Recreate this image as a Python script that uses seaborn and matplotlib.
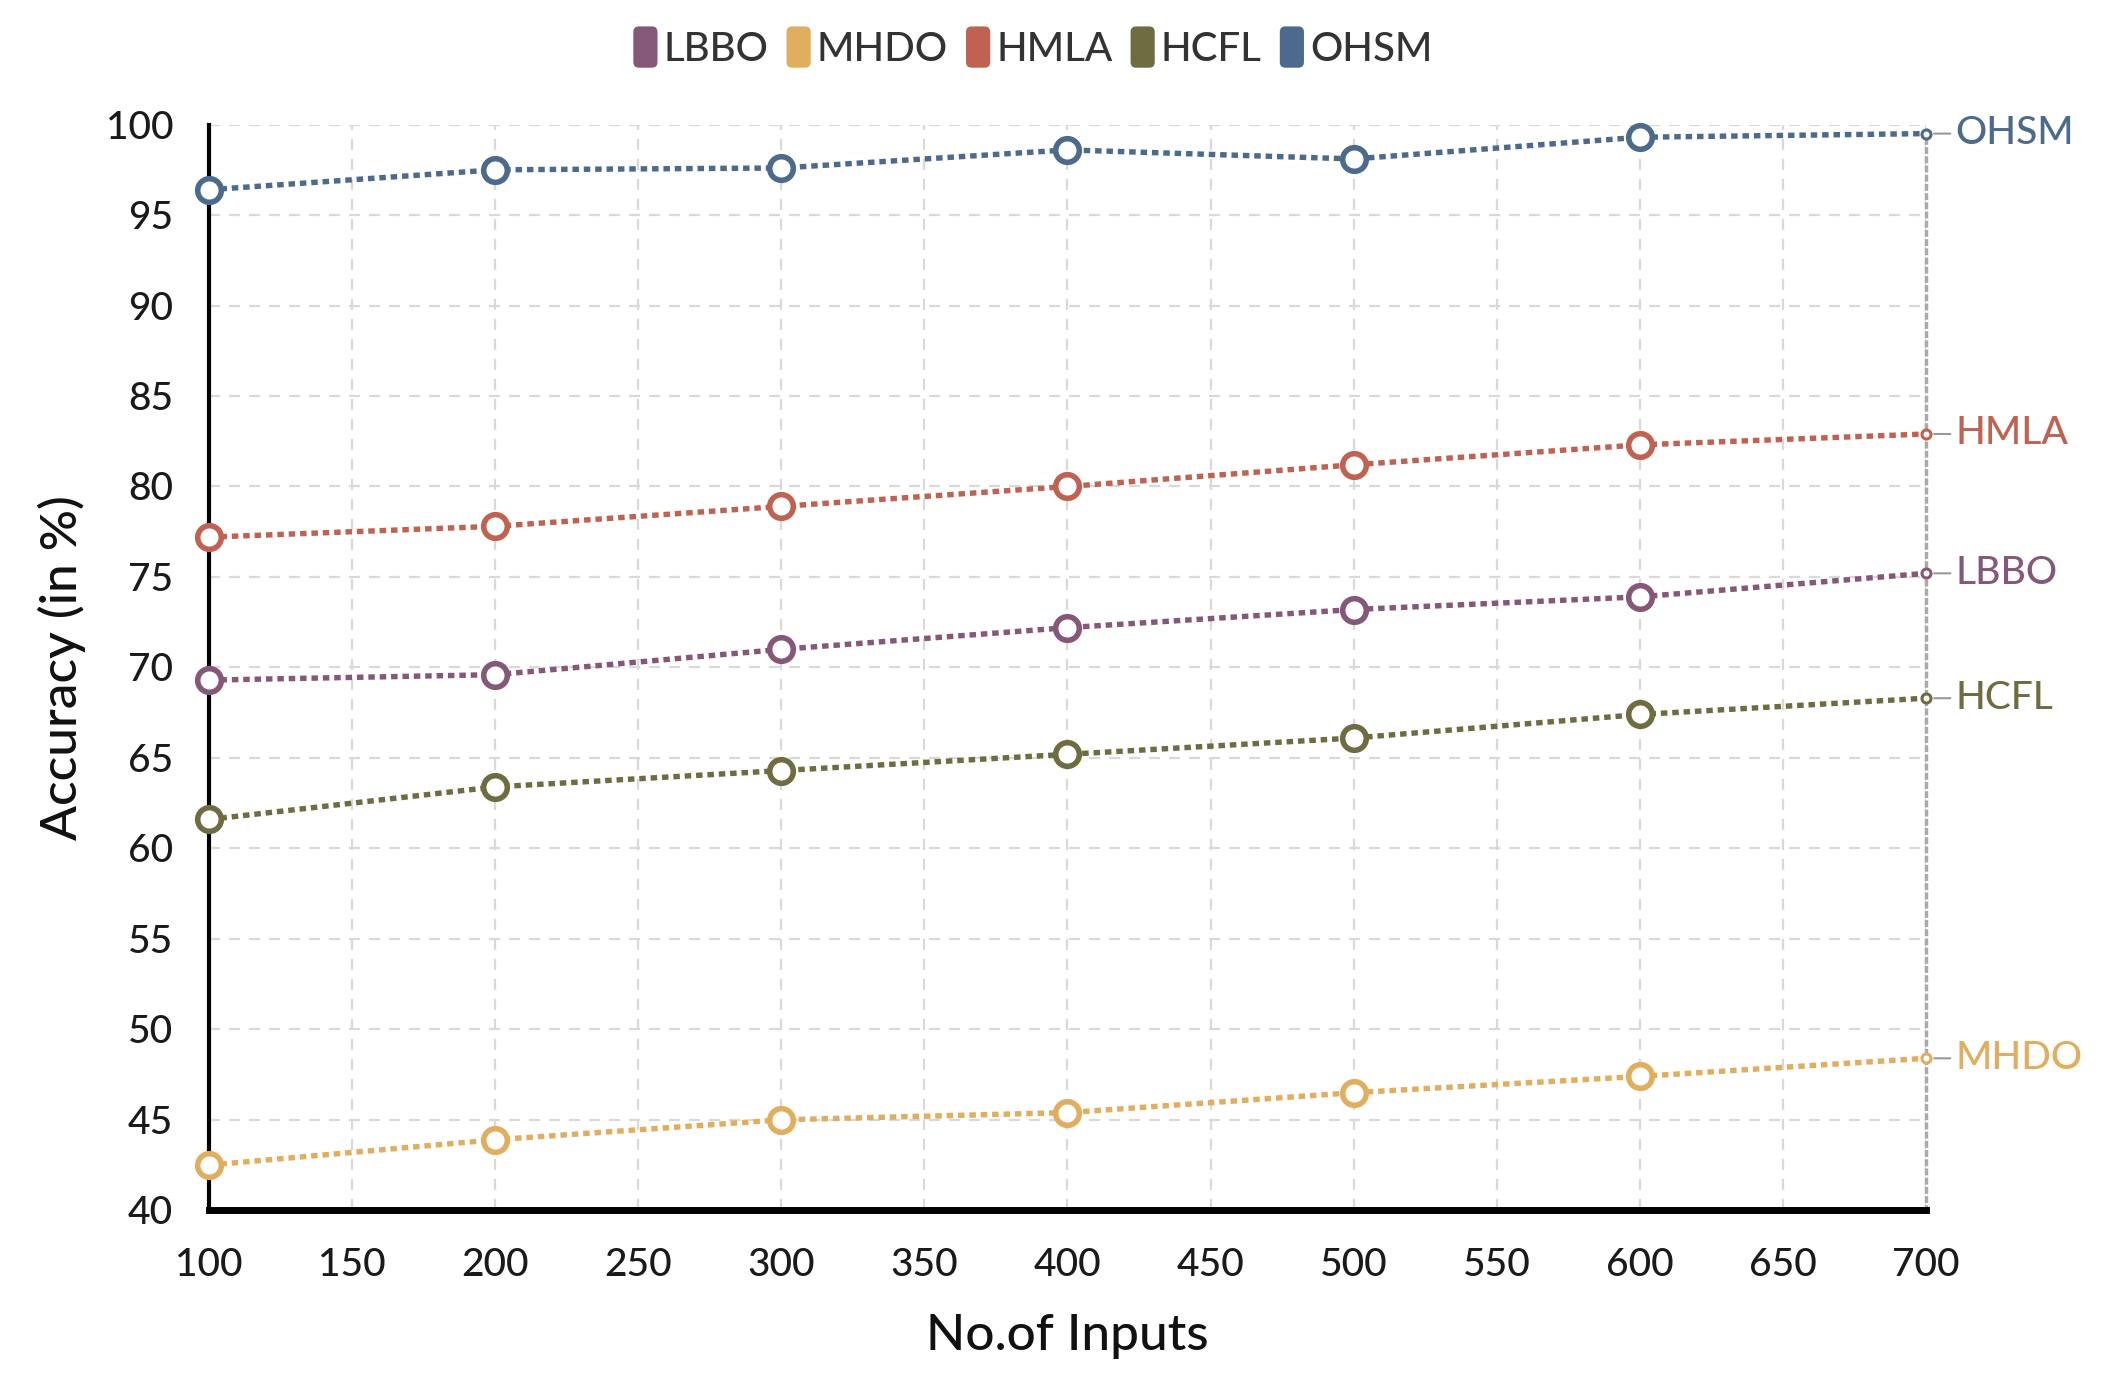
import matplotlib
matplotlib.use('Agg')
from matplotlib import pyplot as plt
from matplotlib.legend_handler import HandlerPatch
from matplotlib.patches import FancyBboxPatch, Patch
import numpy as np
import pandas as pd
import seaborn as sns

sns.set_theme(style='white')
plt.rcParams['font.family'] = ['Lato', 'DejaVu Sans']

# Data
inputs = [100, 200, 300, 400, 500, 600, 700]
series = ['LBBO', 'MHDO', 'HMLA', 'HCFL', 'OHSM']
lbbo = [69.3, 69.6, 71.0, 72.2, 73.2, 73.9, 75.2]
mhdo = [42.5, 43.9, 45.0, 45.4, 46.5, 47.4, 48.4]
hmla = [77.2, 77.8, 78.9, 80.0, 81.2, 82.3, 82.9]
hcfl = [61.6, 63.4, 64.3, 65.2, 66.1, 67.4, 68.3]
ohsm = [96.4, 97.5, 97.6, 98.6, 98.1, 99.3, 99.5]
colors = ['#85587A', '#E0AE5E', '#BF6252', '#6F6C42', '#4C6A8C']

values = dict(zip(series, [lbbo, mhdo, hmla, hcfl, ohsm]))
palette = dict(zip(series, colors))
df = pd.DataFrame([(s, x, y) for s in series for x, y in zip(inputs, values[s])],
                  columns=['Method', 'Inputs', 'Accuracy'])

fig = plt.figure(figsize=(21.08, 13.84), dpi=100)
ax = fig.add_axes([0.0992, 0.1255, 0.8144, 0.7845])

# grid
ax.set_xticks(np.arange(100, 701, 50))
ax.set_yticks(np.arange(40, 101, 5))
ax.grid(True, color='#d9d9d9', linestyle=(0, (5, 4)), linewidth=1.6)
ax.set_axisbelow(True)

sns.lineplot(data=df, x='Inputs', y='Accuracy', hue='Method', palette=palette,
             linestyle=(0, (1.2, 0.9)), linewidth=3.9, legend=False, ax=ax,
             zorder=3)

# markers: big hollow circles up to 600, small one at the end
for s in series:
    sub = df[df.Method == s]
    head, tail = sub[sub.Inputs < 700], sub[sub.Inputs == 700]
    ax.plot(head.Inputs, head.Accuracy, 'o', ms=17, mfc='white', mec=palette[s],
            mew=4, clip_on=False, zorder=4)
    ax.plot(tail.Inputs, tail.Accuracy, 'o', ms=6.5, mfc='white', mec=palette[s],
            mew=2.2, clip_on=False, zorder=4)
    ax.annotate(s, xy=(tail.Inputs.iloc[0], tail.Accuracy.iloc[0]),
                xytext=(21, 0), textcoords='offset points', va='center', ha='left',
                fontsize=28, color=palette[s], fontweight='medium',
                annotation_clip=False,
                arrowprops=dict(arrowstyle='-', color='#999999', lw=1.5,
                                shrinkA=1, shrinkB=6))

ax.set_xlim(100, 700)
ax.set_ylim(40, 100)

ax.spines['top'].set_visible(False)
ax.spines['right'].set_linestyle(':')
ax.spines['right'].set_color('#aaaaaa')
ax.spines['right'].set_linewidth(2.5)
ax.spines['left'].set_color('black')
ax.spines['left'].set_linewidth(3)
ax.spines['bottom'].set_color('black')
ax.spines['bottom'].set_linewidth(5)

ax.tick_params(axis='both', direction='in', length=13, width=3, color='black',
               labelsize=28, labelcolor='#1a1a1a')
ax.tick_params(axis='x', pad=27)
ax.tick_params(axis='y', pad=26)
for lab in ax.get_xticklabels() + ax.get_yticklabels():
    lab.set_fontweight('medium')

ax.set_xlabel('No.of Inputs', fontsize=37, color='#111111', labelpad=22,
              fontweight='medium')
ax.set_ylabel('Accuracy (in %)', fontsize=37, color='#111111', labelpad=14,
              fontweight='medium')


def rounded_patch(legend, orig_handle, xdescent, ydescent, width, height, fontsize):
    return FancyBboxPatch((-xdescent, -ydescent), width, height,
                          boxstyle='round,pad=0,rounding_size=4')


handles = [Patch(facecolor=palette[s], edgecolor='none', label=s) for s in series]
leg = fig.legend(handles=handles, loc='center', bbox_to_anchor=(0.49, 0.966), ncol=5,
                 frameon=False, fontsize=29, handlelength=0.6, handleheight=1.2,
                 handletextpad=0.15, columnspacing=0.45, labelcolor='#333333',
                 handler_map={Patch: HandlerPatch(patch_func=rounded_patch)})
for t in leg.get_texts():
    t.set_fontweight('medium')

fig.savefig('out.png', dpi=100)
